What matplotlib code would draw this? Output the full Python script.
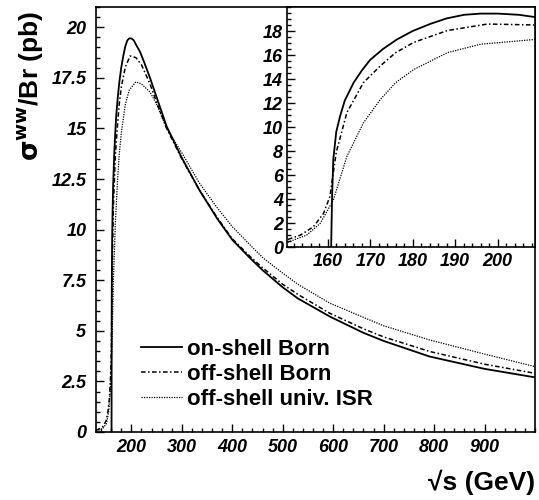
import matplotlib
matplotlib.use('Agg')
import matplotlib.pyplot as plt
from matplotlib.ticker import MultipleLocator
from matplotlib.font_manager import FontProperties

# on-shell Born
s_on = [160.8, 161.0, 161.3, 162.0, 162.9, 164.0, 166.1, 168.0, 170.0, 173.0, 176.3,
        180.0, 184.2, 188.0, 192.1, 196.0, 200.0, 205.0, 209.0, 217.0, 225.0, 237.0,
        250.0, 270.0, 300.0, 335.0, 370.0, 400.0, 435.0, 460.0, 500.0, 530.0, 593.0,
        660.0, 700.0, 791.0, 900.0, 1000.0]
sig_on = [0.0, 4.0, 7.3, 9.6, 10.9, 12.2, 13.7, 14.7, 15.6, 16.5, 17.3,
          18.0, 18.6, 19.05, 19.35, 19.45, 19.45, 19.35, 19.15, 18.8, 18.3, 17.5,
          16.55, 15.1, 13.55, 11.95, 10.55, 9.5, 8.6, 8.0, 7.15, 6.6, 5.71,
          4.9, 4.5, 3.73, 3.12, 2.7]

# off-shell Born
s_off = [130.0, 140.0, 145.0, 150.0, 153.5, 156.6, 159.0, 160.5, 162.0, 164.5, 168.4,
         172.4, 176.0, 180.3, 188.2, 197.6, 209.0, 220.0, 237.0, 250.0, 270.0, 300.0,
         335.0, 370.0, 400.0, 435.0, 460.0, 500.0, 530.0, 593.0, 660.0, 700.0, 791.0,
         900.0, 1000.0]
sig_off = [0.08, 0.2, 0.3, 0.56, 0.98, 1.68, 2.8, 4.2, 7.9, 11.2, 13.7,
           15.1, 16.2, 17.06, 18.04, 18.58, 18.5, 18.15, 17.2, 16.3, 15.0, 13.5,
           11.95, 10.6, 9.55, 8.68, 8.12, 7.3, 6.8, 5.87, 5.1, 4.7, 3.98,
           3.35, 2.9]

# off-shell universal ISR
s_isr = [130.0, 140.0, 145.0, 150.7, 155.0, 158.2, 161.3, 164.5, 168.4, 172.4, 176.0,
         180.3, 188.2, 196.0, 209.0, 220.0, 237.0, 250.0, 270.0, 300.0, 335.0, 368.0,
         400.0, 435.0, 461.0, 500.0, 530.0, 593.0, 672.0, 700.0, 791.0, 900.0, 1000.0]
sig_isr = [0.05, 0.12, 0.22, 0.42, 0.98, 1.96, 3.9, 7.55, 10.35, 12.3, 13.7,
           14.8, 16.2, 16.9, 17.3, 17.2, 16.8, 16.2, 15.0, 13.8, 12.3, 11.15,
           10.15, 9.25, 8.6, 7.85, 7.3, 6.37, 5.54, 5.25, 4.55, 3.85, 3.23]

labels = ['on-shell Born', 'off-shell Born', 'off-shell univ. ISR']

tickfont = dict(family='Liberation Sans', weight='bold', style='italic', size=13)
ls_on = '-'
ls_off = (0, (3, 1.6, 1, 1.6))
ls_isr = (0, (1, 1))

W, H = 539, 500
fig = plt.figure(figsize=(W / 100, H / 100), dpi=100)

def style_axis(ax, xmin, ymin, xpad, ypad):
    ax.xaxis.set_minor_locator(MultipleLocator(xmin))
    ax.yaxis.set_minor_locator(MultipleLocator(ymin))
    ax.tick_params(which='both', direction='in', top=False, right=False, width=1.0)
    ax.tick_params(which='major', length=6)
    ax.tick_params(which='minor', length=3)
    ax.tick_params(axis='x', which='major', pad=xpad)
    ax.tick_params(axis='y', which='major', pad=ypad)
    for sp in ax.spines.values():
        sp.set_linewidth(1.2)
    for lab in ax.get_xticklabels() + ax.get_yticklabels():
        lab.set_fontproperties(FontProperties(**tickfont))

# main axes
ax = fig.add_axes([96 / W, (H - 432) / H, (535 - 96) / W, (432 - 7) / H])
ax.plot(s_on, sig_on, linestyle=ls_on, color='black', lw=1.3, label=labels[0])
ax.plot(s_off, sig_off, linestyle=ls_off, color='black', lw=1.1, label=labels[1])
ax.plot(s_isr, sig_isr, linestyle=ls_isr, color='black', lw=0.9, label=labels[2])
ax.set_xlim(130, 1000)
ax.set_ylim(0, 21)
ax.set_xticks(range(200, 1000, 100))
ax.set_yticks([0, 2.5, 5, 7.5, 10, 12.5, 15, 17.5, 20])
ax.set_yticklabels(['0', '2.5', '5', '7.5', '10', '12.5', '15', '17.5', '20'])
style_axis(ax, 20, 0.5, 5, 7)

leg = ax.legend(loc='upper left', bbox_to_anchor=(0.1025, 0.219), frameon=False,
                borderpad=0, borderaxespad=0, handlelength=1.85, handletextpad=0.22,
                labelspacing=0.18,
                prop=dict(family='Liberation Sans', weight='bold', size=16))

# inset
axi = fig.add_axes([287 / W, (H - 247) / H, (535 - 287) / W, (247 - 7) / H])
axi.plot(s_on, sig_on, linestyle=ls_on, color='black', lw=1.3)
axi.plot(s_off, sig_off, linestyle=ls_off, color='black', lw=1.1)
axi.plot(s_isr, sig_isr, linestyle=ls_isr, color='black', lw=0.9)
axi.set_xlim(150.4, 208.8)
axi.set_ylim(0, 20)
axi.set_xticks(range(160, 201, 10))
axi.set_yticks(range(0, 19, 2))
style_axis(axi, 2, 0.5, 4, 3)

# axis titles
fig.text(535 / W, 1 - 482 / H, '\u221as (GeV)', ha='right', va='center',
         family=['Liberation Sans', 'DejaVu Sans'], weight='bold', size=19)
fig.text(30 / W, 1 - 86 / H, r'$\mathbf{\sigma^{ww}}$/Br (pb)', ha='center', va='center',
         rotation=90, family=['Liberation Sans', 'DejaVu Sans'], weight='bold', size=19)

fig.savefig('out.png', dpi=100)
